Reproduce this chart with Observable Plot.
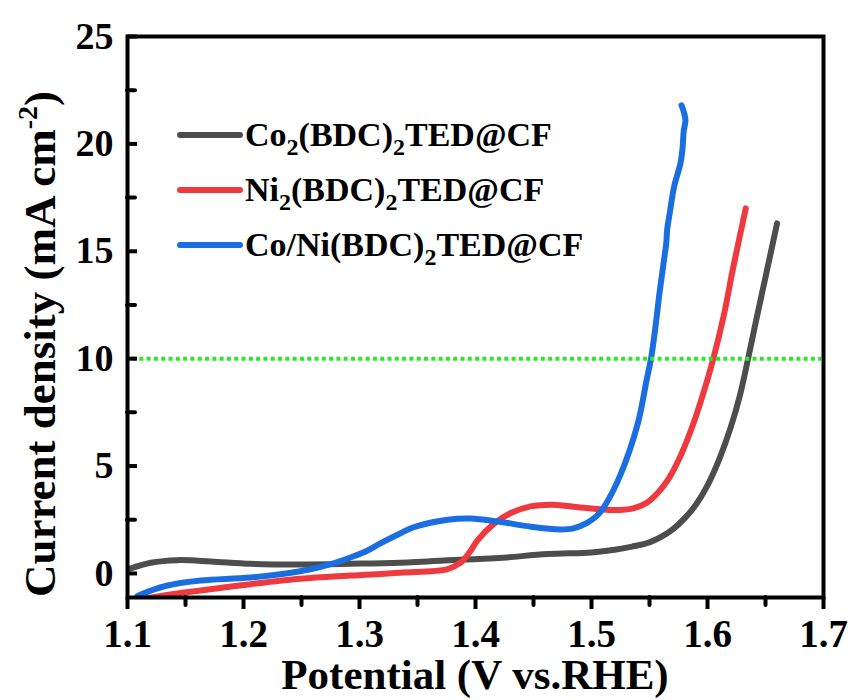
<!DOCTYPE html>
<html>
<head>
<meta charset="utf-8">
<script src="https://cdn.jsdelivr.net/npm/d3@7"></script>
<script src="https://cdn.jsdelivr.net/npm/@observablehq/plot@0.6"></script>
<style>
  body { margin: 0; background: #fff; }
</style>
</head>
<body>
<div id="chart"></div>
<script>
// ---- data ----
const seriesNames = ["Co_2(BDC)_2TED@CF", "Ni_2(BDC)_2TED@CF", "Co/Ni(BDC)_2TED@CF"];
const seriesColors = ["#4d4d4d", "#ee3a3f", "#1a6ee0"];

const coX = [1.1026,1.12,1.143,1.172,1.206,1.249,1.292,1.335,1.39,1.42,1.462,1.50,1.52,1.535,1.55,1.56,1.57,1.58,1.59,1.60,1.61,1.62,1.628,1.635,1.642,1.650,1.66];
const coY = [0.23,0.5,0.62,0.56,0.45,0.42,0.45,0.5,0.65,0.72,0.9,0.98,1.1,1.25,1.45,1.7,2.05,2.55,3.2,4.1,5.3,6.8,8.3,10.0,11.8,13.8,16.3];

const niX = [1.116,1.14,1.163,1.206,1.249,1.292,1.335,1.376,1.387,1.395,1.4017,1.4155,1.43,1.4474,1.467,1.4905,1.519,1.536,1.548,1.558,1.567,1.577,1.588,1.597,1.605,1.614,1.622,1.633];
const niY = [-1.15,-0.95,-0.79,-0.5,-0.25,-0.1,0.03,0.2,0.5,1.0,1.54,2.3,2.8,3.12,3.2,3.07,2.95,3.03,3.3,3.8,4.45,5.5,7.0,8.5,10.0,12.0,14.2,17.0];

const cnX = [1.1086,1.12,1.1345,1.163,1.206,1.249,1.2776,1.295,1.307,1.318,1.335,1.3466,1.376,1.3957,1.419,1.4474,1.473,1.4845,1.4966,1.505,1.512,1.525,1.54,1.5475,1.5513,1.5552,1.5585,1.562,1.5645,1.5652,1.5675,1.5712,1.5767,1.5785,1.5795,1.581,1.5795,1.5776];
const cnY = [-1.05,-0.8,-0.56,-0.33,-0.19,0.1,0.47,0.8,1.07,1.4,1.86,2.15,2.5,2.56,2.42,2.18,2.05,2.1,2.37,2.7,3.2,4.6,7.0,9.0,10.0,11.5,13.0,14.4,15.4,16.0,16.8,18.0,19.1,19.8,20.6,21.1,21.5,21.8];

const refLine = [10];
const xTicks = [1.1,1.2,1.3,1.4,1.5,1.6,1.7];
const xMinor = [1.15,1.25,1.35,1.45,1.55,1.65];
const yTicks = [0,5,10,15,20,25];
const yMinor = [2.5,7.5,12.5,17.5,22.5];
const xTitle = "Potential (V vs.RHE)";
const yTitle = ["Current density (mA cm", "-2", ")"];

// ---- build tables ----
const toRows = (xs, ys) => xs.map((x, i) => ({x, y: ys[i]}));
const seriesData = [toRows(coX, coY), toRows(niX, niY), toRows(cnX, cnY)];

const W = 853, H = 700, mL = 127, mR = 30, mT = 36, mB = 103;
const innerW = W - mL - mR;
const FF = "'Liberation Serif','Times New Roman',serif";

const plot = Plot.plot({
  width: W, height: H,
  marginLeft: mL, marginRight: mR, marginTop: mT, marginBottom: mB,
  x: {domain: [1.1, 1.7]},
  y: {domain: [-1.12, 25]},
  style: {fontFamily: FF, fontWeight: "bold", background: "white", color: "black"},
  marks: [
    ...seriesData.map((rows, i) => Plot.line(rows, {
      x: "x", y: "y", stroke: seriesColors[i], strokeWidth: 6,
      curve: "catmull-rom", strokeLinecap: "round", strokeLinejoin: "round", clip: true
    })),
    Plot.ruleY(refLine, {stroke: "#2ee62e", strokeWidth: 4, strokeDasharray: "4,3.3", insetLeft: 5, insetRight: 2}),
    Plot.frame({stroke: "black", strokeWidth: 4}),
    Plot.axisX(xTicks, {tickSize: 12, tickPadding: 10, fontSize: 39, strokeWidth: 4,
      tickFormat: d => d.toFixed(1), label: null}),
    Plot.axisX(xMinor, {tickSize: 8, strokeWidth: 4, strokeLinecap: "round", tickFormat: () => "", label: null}),
    Plot.axisY(yTicks, {tickSize: 0, tickPadding: 14, fontSize: 38, label: null}),
    Plot.tickY(yTicks, {y: d => d, insetRight: innerW - 10, strokeWidth: 4}),
    Plot.tickY(yMinor, {y: d => d, insetRight: innerW - 8, strokeWidth: 4, strokeLinecap: "round"})
  ]
});

document.getElementById("chart").appendChild(plot);

// ---- titles & legend ----
const svg = d3.select(plot);
const g = svg.append("g").attr("font-family", FF).attr("font-weight", "bold").attr("fill", "black");

g.append("text")
  .attr("x", 475).attr("y", 689)
  .attr("text-anchor", "middle").attr("font-size", 43)
  .text(xTitle);

const yt = g.append("text")
  .attr("transform", "translate(55,344) rotate(-90)")
  .attr("text-anchor", "middle").attr("font-size", 45);
yt.append("tspan").text(yTitle[0]);
yt.append("tspan").attr("font-size", 28).attr("dy", -18).text(yTitle[1]);
yt.append("tspan").attr("dy", 18).text(yTitle[2]);

const legendY = [135, 190, 245];
seriesNames.forEach((name, i) => {
  const y = legendY[i];
  g.append("line")
    .attr("x1", 180).attr("x2", 240).attr("y1", y).attr("y2", y)
    .attr("stroke", seriesColors[i]).attr("stroke-width", 6).attr("stroke-linecap", "round");
  const t = g.append("text").attr("x", 245).attr("y", y + 11)
    .attr("font-size", 34).attr("text-anchor", "start");
  const parts = name.split(/_(\d)/);
  let sub = false;
  parts.forEach((p, k) => {
    if (k % 2 === 1) {
      t.append("tspan").attr("font-size", 24).attr("dy", 9).text(p);
      sub = true;
    } else if (p.length) {
      const ts = t.append("tspan").text(p);
      if (sub) { ts.attr("dy", -9); sub = false; }
    }
  });
});
</script>
</body>
</html>
